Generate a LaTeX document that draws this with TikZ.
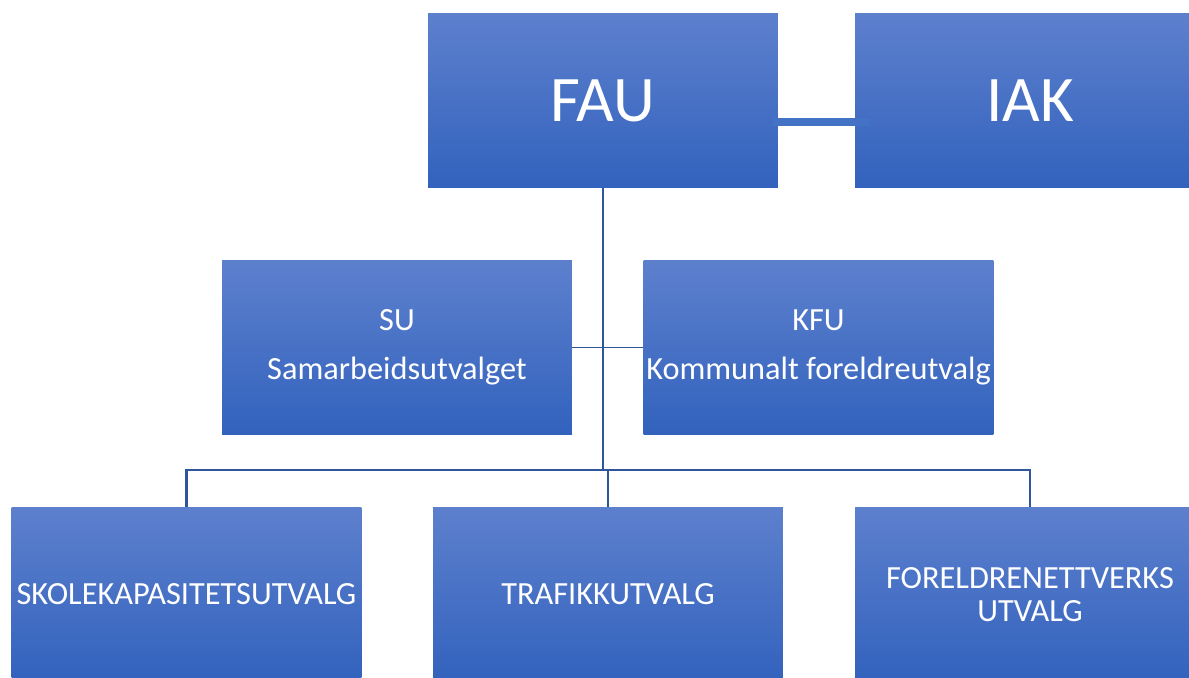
\documentclass[tikz,border=0pt]{standalone}
\usepackage{fontspec}
\setmainfont{Carlito}
\usepackage{tikz}
\usetikzlibrary{positioning}

\definecolor{boxtop}{HTML}{5D80CD}
\definecolor{boxbot}{HTML}{3262BD}
\definecolor{linkblue}{HTML}{4472C4}
\definecolor{treeblue}{HTML}{2F559A}

\begin{document}
\begin{tikzpicture}[x=0.02cm, y=-0.02cm,
    every node/.style={rectangle, top color=boxtop, bottom color=boxbot,
        text=white, minimum width=7cm, minimum height=3.5cm, align=center,
        inner sep=0pt, font=\fontsize{18.4}{28}\selectfont},
    bigbox/.style={font=\fontsize{37}{44}\selectfont},
    tightbox/.style={font=\fontsize{18.4}{18.6}\selectfont},
    tree/.style={draw=treeblue, line width=1.2pt}]
    \useasboundingbox (0,0) rectangle (1189,677);
    \node[bigbox] (fau) at (603,100.5) {FAU};
    \node[bigbox] (iak) at (1030,100.5) {IAK};
    \node (su) at (397,347.5) {SU\\Samarbeidsutvalget};
    \node (kfu) at (818.5,347.5) {KFU\\Kommunalt foreldreutvalg};
    \node (skole) at (186.5,594.5) {SKOLEKAPASITETSUTVALG};
    \node (trafikk) at (608,594.5) {TRAFIKKUTVALG};
    \node[tightbox] (nett) at (1030,594.5) {FORELDRENETTVERKS\\UTVALG};
    \coordinate (bus) at (603,470);
    \draw[linkblue, line width=4pt] ([xshift=-0.1cm]fau.east |- 0,122) -- ([xshift=0.3cm]iak.west |- 0,122);
    \draw[tree] (fau.south) -- (bus);
    \draw[tree, line width=0.9pt] (su.east) -- (kfu.west);
    \draw[tree] (skole.north) |- (bus) -| (nett.north);
    \draw[tree] (trafikk.north) -- (trafikk.north |- bus);
\end{tikzpicture}
\end{document}
